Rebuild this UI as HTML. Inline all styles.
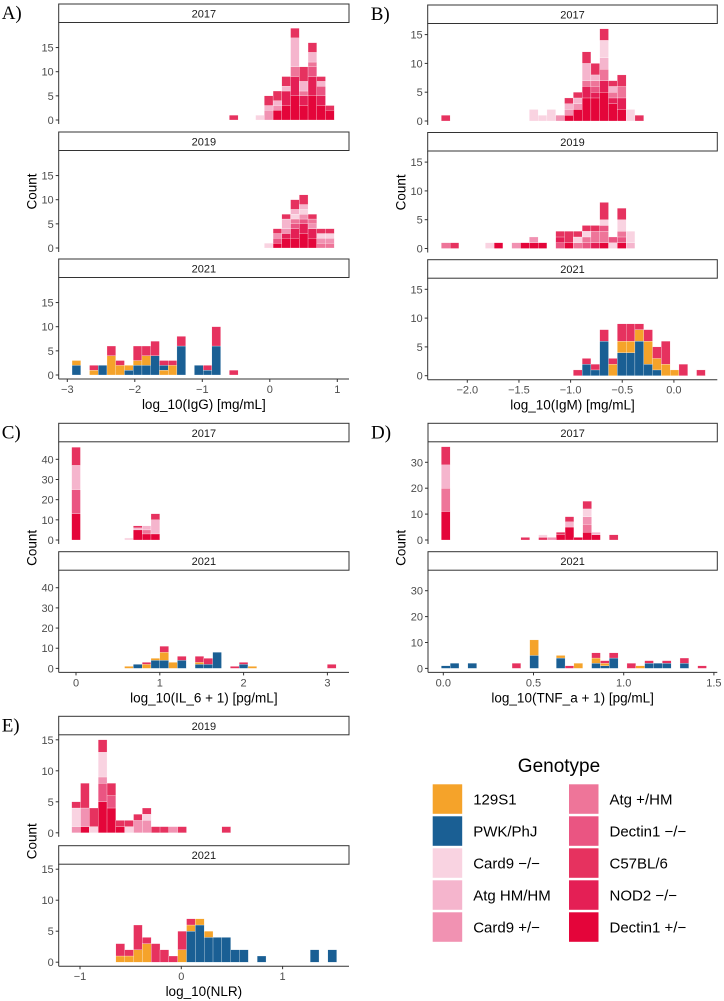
<!DOCTYPE html>
<html><head><meta charset="utf-8"><style>
html,body{margin:0;padding:0;background:#fff}
svg{display:block;font-family:"Liberation Sans",sans-serif}
</style></head><body>
<svg id="fig" width="724" height="1001" viewBox="0 0 724 1001" xmlns="http://www.w3.org/2000/svg"></svg>
<script>
// genotype palette index: 0 129S1,1 PWK/PhJ,2 Card9-/-,3 Atg HM/HM,4 Card9+/-,5 Atg+/HM,6 Dectin1-/-,7 C57BL/6,8 NOD2-/-,9 Dectin1+/-
const genotypes = ["129S1","PWK/PhJ","Card9 \u2212/\u2212","Atg HM/HM","Card9 +/\u2212","Atg +/HM","Dectin1 \u2212/\u2212","C57BL/6","NOD2 \u2212/\u2212","Dectin1 +/\u2212"];
const genoColors = ["#F5A32A","#1A5F94","#F9D3E1","#F5B5CD","#F192B2","#EE7599","#EA5582","#E6325F","#E41F55","#E4053A"];
// each bin: [binIndex, stack string bottom->top; one char = one animal's genotype]
const igg2017 = [[18,"7"],[21,"2"],[22,"44377"],[23,"994377"],[24,"999888377"],[25,"9999988885533333377"],[26,"99988533777"],[27,"9999988886653377"],[28,"999886637"],[29,"997"]];
const igg2019 = [[22,"2"],[23,"9647"],[24,"9984337"],[25,"9988652377"],[26,"99988642377"],[27,"9988457"],[28,"5427"],[29,"5427"]];
const igg2021 = [[0,"110"],[2,"07"],[3,"11"],[4,"000077"],[5,"007"],[6,"10"],[7,"110777"],[8,"110077"],[9,"1111777"],[10,"017"],[11,"007"],[12,"11111177"],[14,"11"],[15,"17"],[16,"1111117777"],[18,"7"]];
const igm2017 = [[0,"7"],[10,"22"],[11,"2"],[12,"22"],[13,"4"],[14,"9437"],[15,"99437"],[16,"999988533377"],[17,"9999865377"],[18,"9999988553322277"],[19,"9998537"],[20,"99885577"],[21,"22"],[22,"7"]];
const igm2019 = [[0,"5"],[1,"7"],[5,"2"],[6,"9"],[8,"4"],[9,"9"],[10,"94"],[11,"9"],[13,"687"],[14,"977"],[15,"527"],[16,"6527"],[17,"8557"],[18,"95562777"],[19,"26"],[20,"9652277"],[21,"322"]];
const igm2021 = [[15,"7"],[16,"117"],[17,"17"],[18,"11111177"],[19,"007"],[20,"111100777"],[21,"111100777"],[22,"111111007"],[23,"11000077"],[24,"10077"],[25,"007777"],[26,"0"],[27,"77"],[29,"7"]];
const il62017 = [[0,"9999999999999666666666666333333333333777777777"],[6,"2"],[7,"9999937"],[8,"9995533"],[9,"9993333333777"]];
const il62021 = [[6,"0"],[7,"11"],[8,"007"],[9,"11110"],[10,"11110000777"],[11,"000"],[12,"111177"],[14,"110777"],[15,"11777"],[16,"11111111"],[18,"7"],[19,"117"],[20,"0"],[29,"77"]];
const tnf2017 = [[0,"999999999995555555553333333337777777"],[9,"7"],[11,"72"],[12,"4"],[13,"997"],[14,"999993377"],[15,"9"],[16,"999555444222777"],[17,"993"],[19,"77"]];
const tnf2021 = [[0,"1"],[1,"11"],[3,"11"],[8,"77"],[10,"11111000000"],[13,"11110"],[14,"7"],[15,"00"],[17,"110077"],[18,"107"],[19,"111177"],[21,"77"],[22,"0"],[23,"117"],[24,"11"],[25,"117"],[27,"1177"],[29,"7"]];
const nlr2019 = [[0,"42227"],[1,"94447777"],[2,"2777"],[3,"999996664222277"],[4,"99996677"],[5,"97"],[6,"27"],[7,"447"],[8,"4427"],[9,"7"],[10,"7"],[11,"4"],[12,"7"],[17,"7"]];
const nlr2021 = [[5,"077"],[6,"07"],[7,"007777"],[8,"0007"],[9,"777"],[10,"77"],[11,"7"],[12,"00777"],[13,"1111107"],[14,"1111110"],[15,"11110"],[16,"1111"],[17,"1111"],[18,"11"],[19,"11"],[21,"1"],[27,"11"],[29,"11"]];
const xticksA = [-3,-2,-1,0,1], xlabA = ["\u22123","\u22122","\u22121","0","1"];
const xticksB = [-2,-1.5,-1,-0.5,0], xlabB = ["\u22122.0","\u22121.5","\u22121.0","\u22120.5","0.0"];
const xticksC = [0,1,2,3], xlabC = ["0","1","2","3"];
const xticksD = [0,0.5,1,1.5], xlabD = ["0.0","0.5","1.0","1.5"];
const xticksE = [-1,0,1], xlabE = ["\u22121","0","1"];
const yticks15 = [0,5,10,15], yticks40 = [0,10,20,30,40], yticks30 = [0,10,20,30];

const NS = "http://www.w3.org/2000/svg";
const svg = document.getElementById("fig");
function mk(tag, attrs, parent, text){
  const e = document.createElementNS(NS, tag);
  for (const k in attrs) e.setAttribute(k, attrs[k]);
  if (text !== undefined) e.textContent = text;
  (parent || svg).appendChild(e);
  return e;
}
const panels = [
  {id:"a",letter:"A)",x0:58.7,x1:349,v0:-3,p0:67.3,k:67.5,lo:-2.93,w:0.1295,tops:[4,132,259],yoff:116,ppc:4.83,yt:yticks15,xt:xticksA,xl:xlabA,title:"log_10(IgG) [mg/mL]",countX:31.7,facets:[["2017",igg2017],["2019",igg2019],["2021",igg2021]]},
  {id:"b",letter:"B)",x0:427.7,x1:717.3,v0:-2,p0:467.3,k:103.3,lo:-2.2516,w:0.0852,tops:[5,132.5,259.7],yoff:116,ppc:5.76,yt:yticks15,xt:xticksB,xl:xlabB,title:"log_10(IgM) [mg/mL]",countX:400.7,facets:[["2017",igm2017],["2019",igm2019],["2021",igm2021]]},
  {id:"c",letter:"C)",x0:58.7,x1:349,v0:0,p0:76,k:83.8,lo:-0.052,w:0.1052,tops:[423.3,551.7],yoff:116.7,ppc:2.017,yt:yticks40,xt:xticksC,xl:xlabC,title:"log_10(IL_6 + 1) [pg/mL]",countX:31.7,facets:[["2017",il62017],["2021",il62021]]},
  {id:"d",letter:"D)",x0:428,x1:717.3,v0:0,p0:443.3,k:180.4,lo:-0.011,w:0.049,tops:[423.3,551.7],yoff:116.7,ppc:2.59,yt:yticks30,xt:xticksD,xl:xlabD,title:"log_10(TNF_a + 1) [pg/mL]",countX:400.7,facets:[["2017",tnf2017],["2021",tnf2021]]},
  {id:"e",letter:"E)",x0:58.7,x1:349,v0:-1,p0:80,k:101.3,lo:-1.082,w:0.0872,tops:[716.3,845.7],yoff:116.5,ppc:6.2,yt:yticks15,xt:xticksE,xl:xlabE,title:"log_10(NLR)",countX:31.7,facets:[["2019",nlr2019],["2021",nlr2021]]}
];
panels.forEach(p => {
  const g = mk("g", {});
  
  
  const xs = v => p.p0 + (v - p.v0) * p.k;
  const lt = mk("text", {x: p.x0 - 57, y: p.tops[0] + 15, "font-family": "Liberation Serif,serif", "font-size": 19}, g, p.letter);
  
  
  let lastY0 = 0, firstTop = p.tops[0];
  p.facets.forEach((f, fi) => {
    const top = p.tops[fi];
    const y0 = top + p.yoff;
    lastY0 = y0;
    const fg = mk("g", {}, g);
    
    
    const sr = mk("rect", {x: p.x0, y: top, width: p.x1 - p.x0, height: 18.5, fill: "#fff", stroke: "#333", "stroke-width": 1}, fg);
    
    
    const st = mk("text", {x: (p.x0 + p.x1) / 2, y: top + 13.5, "text-anchor": "middle", "font-size": 11, fill: "#1a1a1a"}, fg, f[0]);
    
    
    // bars
    f[1].forEach(b => {
      const xl = xs(p.lo + b[0] * p.w), xr = xs(p.lo + (b[0] + 1) * p.w);
      const chars = b[1].split("");
      let i = 0;
      while (i < chars.length) {
        let j = i;
        while (j < chars.length && chars[j] === chars[i]) j++;
        const r = mk("rect", {x: xl, y: y0 - j * p.ppc, width: xr - xl, height: (j - i) * p.ppc, fill: genoColors[+chars[i]], stroke: "#fff", "stroke-width": 0.25}, fg);
        
        
        i = j;
      }
    });
    // y axis
    const ya = mk("line", {x1: p.x0, y1: top + 18.5, x2: p.x0, y2: y0 + 4, stroke: "#333", "stroke-width": 1}, fg);
    
    
    p.yt.forEach(t => {
      const yy = y0 - t * p.ppc;
      mk("line", {x1: p.x0 - 3, y1: yy, x2: p.x0, y2: yy, stroke: "#333", "stroke-width": 1}, fg);
      const tl = mk("text", {x: p.x0 - 5, y: yy + 4, "text-anchor": "end", "font-size": 11, fill: "#4d4d4d"}, fg, String(t));
      
      
    });
  });
  const ab = lastY0 + 4;
  const xa = mk("line", {x1: p.x0, y1: ab, x2: p.x1, y2: ab, stroke: "#333", "stroke-width": 1}, g);
  
  
  p.xt.forEach((t, i) => {
    const xx = xs(t);
    mk("line", {x1: xx, y1: ab, x2: xx, y2: ab + 3, stroke: "#333", "stroke-width": 1}, g);
    const tl = mk("text", {x: xx, y: ab + 14, "text-anchor": "middle", "font-size": 11, fill: "#4d4d4d"}, g, p.xl[i]);
    
    
  });
  const xt = mk("text", {x: (p.x0 + p.x1) / 2, y: ab + 30, "text-anchor": "middle", "font-size": 13.5, fill: "#000"}, g, p.title);
  
  
  const cy = (firstTop + ab) / 2;
  const yt = mk("text", {x: p.countX + 5, y: cy, "text-anchor": "middle", "font-size": 13.5, transform: "rotate(-90 " + (p.countX + 5) + " " + cy + ")"}, g, "Count");
  
  
});
// legend
const lg = mk("g", {});


const lt = mk("text", {x: 559, y: 772, "text-anchor": "middle", "font-size": 19}, lg, "Genotype");


genotypes.forEach((name, i) => {
  const col = Math.floor(i / 5), row = i % 5;
  const sx = col ? 569 : 432.7, sy = 784.3 + row * 32;
  const e = mk("g", {}, lg);
  
  
  mk("rect", {x: sx, y: sy, width: 29.5, height: 29.5, fill: genoColors[i]}, e);
  mk("text", {x: sx + 40.5, y: sy + 20, "font-size": 15}, e, name);
});
</script>
</body></html>
